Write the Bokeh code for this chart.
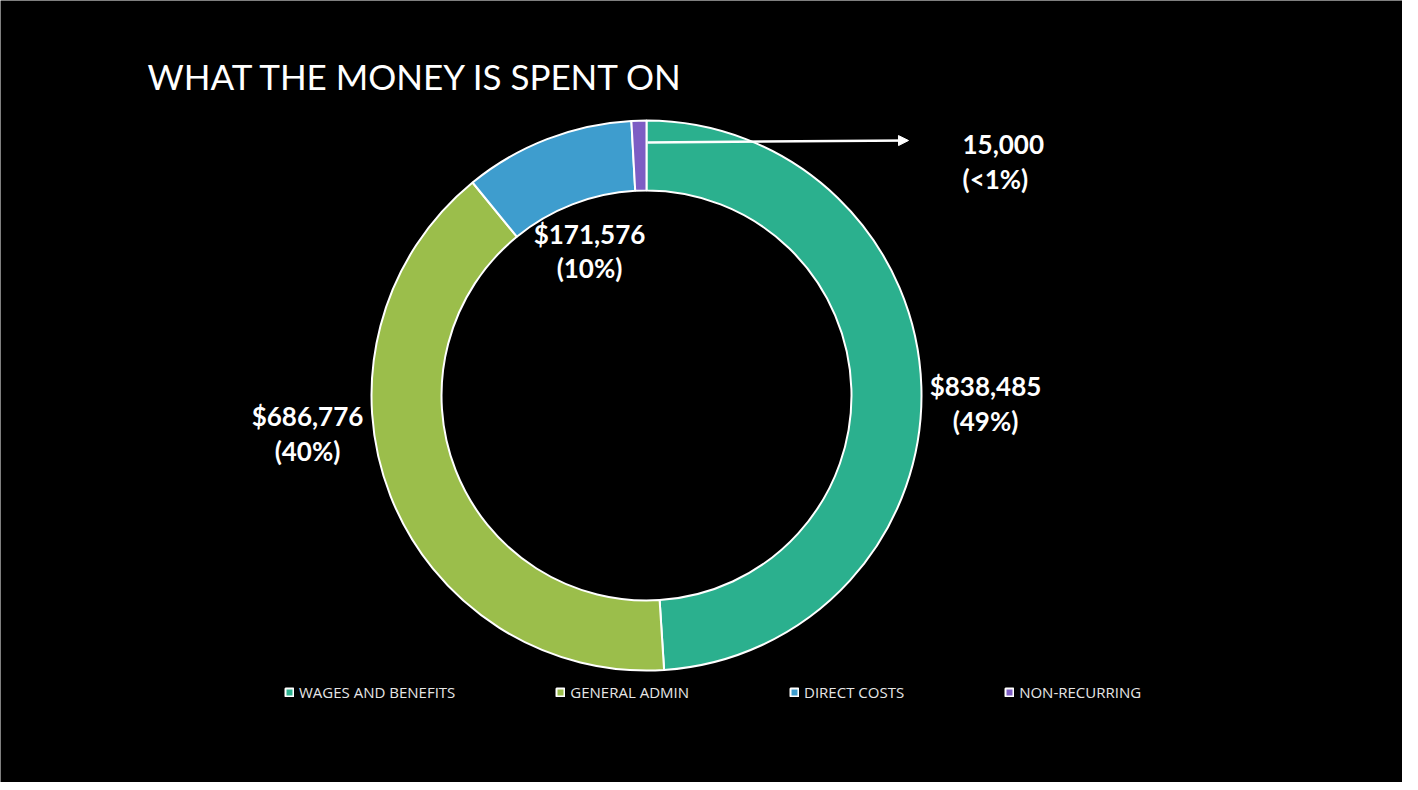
import math
from bokeh.plotting import figure
from bokeh.models import Range1d, Label, Legend, LegendItem, Arrow, NormalHead, ColumnDataSource
from bokeh.embed import file_html
from bokeh.resources import INLINE

# ---- data ----
categories = ["WAGES AND BENEFITS", "GENERAL ADMIN", "DIRECT COSTS", "NON-RECURRING"]
amounts = [838485, 686776, 171576, 15000]
value_labels = ["$838,485", "$686,776", "$171,576", "15,000"]
pct_labels = ["(49%)", "(40%)", "(10%)", "(<1%)"]
colors = ["#2BB08E", "#9BBE4B", "#3E9DCE", "#7D5DC4"]
title = "WHAT THE MONEY IS SPENT ON"

W, H = 1402, 782
IMG_H = 790
def Y(img_y):
    return IMG_H - img_y

p = figure(width=W, height=H, output_backend="svg", toolbar_location=None,
           x_range=Range1d(8, 8 + W), y_range=Range1d(0, H),
           min_border=0, background_fill_color="black", border_fill_color="black",
           outline_line_color=None)
p.axis.visible = False
p.grid.visible = False

cx, cy = 654, Y(403)
r_out, r_in = 275, 205

total = float(sum(amounts))
starts, ends = [], []
cum = 0.0
for a in amounts:
    starts.append(math.pi / 2 - 2 * math.pi * cum / total)
    cum += a
    ends.append(math.pi / 2 - 2 * math.pi * cum / total)

src = ColumnDataSource(dict(x=[cx] * len(amounts), y=[cy] * len(amounts),
                            start=starts, end=ends, color=colors, cat=categories))
r = p.annular_wedge(x="x", y="y", inner_radius=r_in, outer_radius=r_out,
                    start_angle="start", end_angle="end", direction="clock",
                    fill_color="color", line_color="white", line_width=2, source=src)

# title
p.add_layout(Label(x=155, y=Y(104), text=title, text_color="white",
                   text_font="Lato", text_font_size="35px", text_font_style="normal"))

# data labels
lab_pos = [(993, 393, 428, "center"), (315, 423, 458, "center"),
           (597, 241, 275, "center"), (970, 152, 186, "left")]
for i, (lx, y1, y2, al) in enumerate(lab_pos):
    for txt, yy in ((value_labels[i], y1), (pct_labels[i], y2)):
        p.add_layout(Label(x=lx, y=Y(yy), text=txt, text_color="white",
                           text_font="Lato", text_font_size="26px", text_font_style="bold",
                           text_align=al, text_baseline="alphabetic"))

# arrow for small slice
p.add_layout(Arrow(end=NormalHead(size=10, fill_color="white", line_color="white"),
                   x_start=cx + 1, y_start=Y(150), x_end=916, y_end=Y(148),
                   line_color="white", line_width=2.5))

items = [LegendItem(label=categories[i], renderers=[r], index=i) for i in range(len(categories))]
legend = Legend(items=items, orientation="horizontal", location=(284, 80),
                background_fill_alpha=0, border_line_color=None,
                label_text_color="#e6e6e6", label_text_font="Open Sans",
                label_text_font_size="15px", glyph_width=10, glyph_height=10,
                label_standoff=5, spacing=100, padding=0, margin=0,
                label_height=16)
p.add_layout(legend, "center")

open("out.html", "w").write(file_html(p, INLINE))
